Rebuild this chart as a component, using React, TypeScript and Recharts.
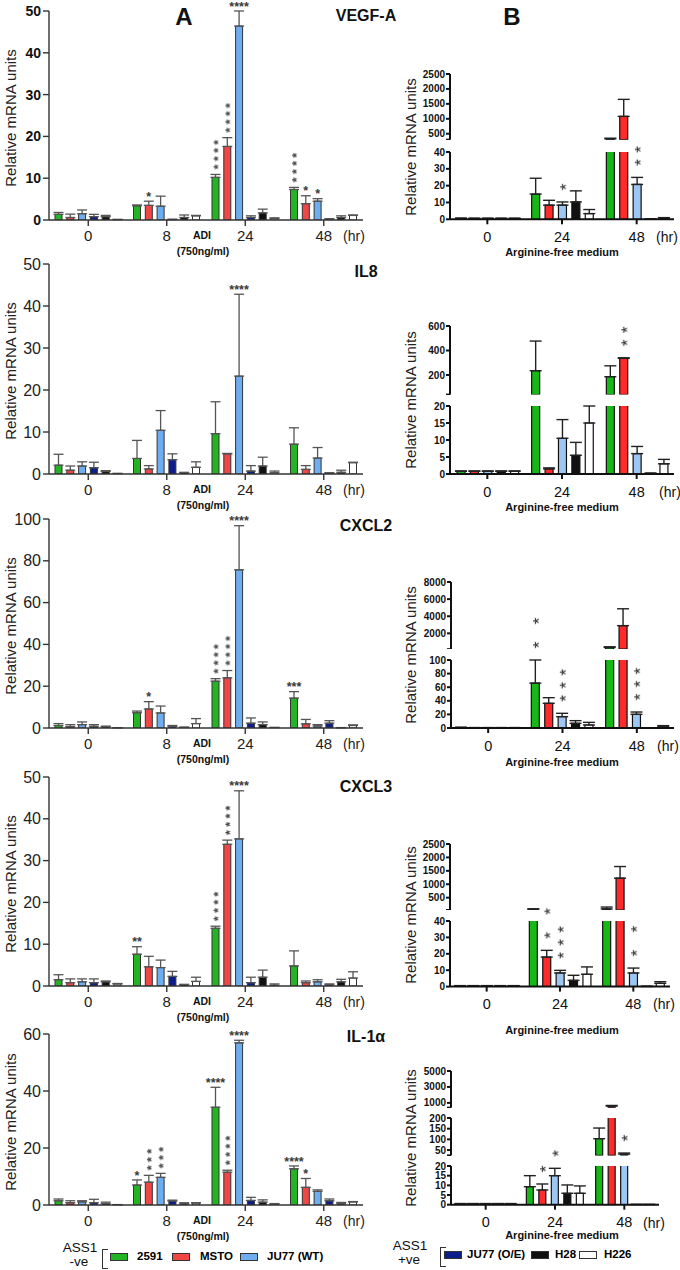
import React from 'react';
import { BarChart, Bar, XAxis, YAxis, ErrorBar, LabelList } from 'recharts';

const FONT = '"Liberation Sans", Arial, Helvetica, sans-serif';

// ---------- column A: ADI (750ng/ml) time course, six cell lines ----------
const TIMES_A = ['0', '8', '24', '48'];
const CELLS_A = ['2591', 'MSTO', 'JU77 (WT)', 'JU77 (O/E)', 'H28', 'H226'];

const VEGF_A_VAL = [
  [1.35, 3.4, 10.2, 7.3],
  [0.6, 3.5, 17.6, 3.9],
  [1.5, 3.3, 46.4, 4.5],
  [0.8, 0.1, 0.6, 0.2],
  [0.8, 0.6, 1.7, 0.6],
  [0.1, 1.0, 0.4, 1.1],
];
const VEGF_A_ERR = [
  [0.45, 0.2, 0.7, 0.5],
  [0.8, 1.0, 2.1, 1.9],
  [0.9, 2.4, 3.8, 0.6],
  [0.55, 0.1, 0.4, 0.1],
  [0.3, 0.6, 0.9, 0.4],
  [0.05, 0.1, 0.1, 0.1],
];
const VEGF_A_STAR = [
  ['', '', 'v:****', 'v:****'],
  ['', '*', 'v:****', '*'],
  ['', '', '****', '*'],
];
const VEGF_A_TICKS = [0, 10, 20, 30, 40, 50];

const IL8_A_VAL = [
  [2.1, 3.7, 9.6, 7.1],
  [0.9, 1.2, 4.8, 1.1],
  [1.9, 10.4, 23.3, 3.8],
  [1.5, 3.4, 0.7, 0.2],
  [0.6, 0.3, 1.9, 0.4],
  [0.1, 1.6, 0.3, 2.7],
];
const IL8_A_ERR = [
  [2.6, 4.3, 7.6, 3.9],
  [1.0, 0.8, 0.1, 0.9],
  [1.0, 4.7, 19.5, 2.5],
  [1.3, 1.4, 1.3, 0.1],
  [0.2, 0.1, 2.1, 0.5],
  [0.05, 1.3, 0.4, 0.1],
];
const IL8_A_STAR = [
  ['', '', '', ''],
  ['', '', '', ''],
  ['', '', '****', ''],
];
const IL8_A_TICKS = [0, 10, 20, 30, 40, 50];

const CXCL2_A_VAL = [
  [1.2, 7.3, 22.4, 14.3],
  [0.7, 9.1, 24.0, 2.0],
  [1.6, 7.2, 75.7, 1.0],
  [0.8, 0.8, 2.3, 2.3],
  [0.6, 0.3, 1.6, 0.1],
  [0.1, 2.1, 0.2, 1.2],
];
const CXCL2_A_ERR = [
  [0.9, 0.8, 1.2, 3.1],
  [0.9, 3.5, 3.5, 2.1],
  [1.3, 3.3, 21.1, 0.6],
  [0.8, 0.4, 2.5, 1.2],
  [0.3, 0.1, 1.3, 0.1],
  [0.05, 2.4, 0.1, 0.3],
];
const CXCL2_A_STAR = [
  ['', '', 'v:****', '***'],
  ['', '*', 'v:****', ''],
  ['', '', '****', ''],
];
const CXCL2_A_TICKS = [0, 20, 40, 60, 80, 100];

const CXCL3_A_VAL = [
  [1.5, 7.6, 13.8, 4.8],
  [0.8, 4.6, 33.9, 0.8],
  [1.0, 4.4, 35.2, 1.0],
  [0.8, 2.3, 0.8, 0.3],
  [1.0, 0.3, 2.1, 1.0],
  [0.5, 1.1, 0.2, 1.9],
];
const CXCL3_A_ERR = [
  [1.2, 1.8, 0.5, 3.6],
  [0.9, 2.5, 1.0, 0.4],
  [0.7, 1.8, 11.5, 0.5],
  [0.9, 1.2, 1.3, 0.2],
  [0.2, 0.1, 1.7, 0.6],
  [0.1, 1.0, 0.3, 1.5],
];
const CXCL3_A_STAR = [
  ['', '**', 'v:****', ''],
  ['', '', 'v:****', ''],
  ['', '', '****', ''],
];
const CXCL3_A_TICKS = [0, 10, 20, 30, 40, 50];

const IL1A_A_VAL = [
  [1.5, 7.0, 34.3, 12.7],
  [0.8, 8.0, 11.5, 6.2],
  [1.1, 9.7, 56.9, 4.8],
  [0.8, 1.4, 1.6, 1.5],
  [0.5, 0.5, 1.0, 0.5],
  [0.1, 0.7, 0.3, 1.1],
];
const IL1A_A_ERR = [
  [0.6, 1.8, 7.0, 1.0],
  [0.7, 2.4, 0.7, 3.1],
  [0.4, 1.4, 0.9, 0.5],
  [1.2, 0.3, 1.1, 0.6],
  [0.5, 0.3, 0.8, 0.4],
  [0.05, 0.1, 0.2, 0.1],
];
const IL1A_A_STAR = [
  ['', '*', '****', '****'],
  ['', 'v:***', 'v:****', '*'],
  ['', 'v:***', '****', ''],
];
const IL1A_A_TICKS = [0, 20, 40, 60];

// ---------- column B: arginine-free medium, five cell lines, broken axes ----------
const TIMES_B = ['0', '24', '48'];

const VEGF_B_VAL = [[0.5, 15, 330], [0.5, 8.4, 1080], [0.5, 8.4, 20.7], [0.5, 10.3, 0.1], [0.5, 3.4, 0.8]];
const VEGF_B_ERR = [[0.2, 9.4, 20], [0.1, 2.9, 570], [0.1, 1.9, 4.2], [0.1, 6.6, 0.05], [0.1, 2.4, 0.2]];
const VEGF_B_STAR = [['', '', ''], ['', '', ''], ['', 'v:*', 'v:**']];
const VEGF_B_TICKS = [[300, 500, 1000, 1500, 2000, 2500], [0, 10, 20, 30, 40]];

const IL8_B_VAL = [[0.8, 235, 186], [0.8, 1.5, 336], [0.8, 10.5, 6], [0.8, 5.5, 0.2], [0.8, 15, 3]];
const IL8_B_ERR = [[0.1, 242, 89], [0.1, 0.3, 4], [0.1, 5.5, 2.1], [0.1, 3.8, 0.05], [0.1, 6, 1.3]];
const IL8_B_STAR = [['', '', ''], ['', '', 'v:**'], ['', '', '']];
const IL8_B_TICKS = [[40, 200, 400, 600], [0, 5, 10, 15, 20]];

const CXCL2_B_VAL = [[0.8, 66, 350], [0.5, 36.3, 2900], [0.5, 16.7, 20.1], [0.5, 6.9, 0.3], [0.5, 4.4, 2]];
const CXCL2_B_ERR = [[0.2, 100, 80], [0.1, 8.3, 1970], [0.1, 4.9, 3.4], [0.1, 3.9, 0.05], [0.1, 3.9, 1.5]];
const CXCL2_B_STAR = [['', 'v:* *', ''], ['', '', ''], ['', 'v:***', 'v:***']];
const CXCL2_B_TICKS = [[150, 2000, 4000, 6000, 8000], [0, 20, 40, 60, 80, 100]];

const CXCL3_B_VAL = [[0.5, 75, 80], [0.5, 18, 1225], [0.5, 8.3, 8.3], [0.5, 3.8, 0.1], [0.5, 7.5, 2]];
const CXCL3_B_ERR = [[0.1, 5, 70], [0.1, 4.1, 435], [0.1, 1.6, 3], [0.1, 3.1, 0.05], [0.1, 4.5, 1]];
const CXCL3_B_STAR = [['', '', ''], ['', 'v:* *', ''], ['', 'v:***', 'v:* *']];
const CXCL3_B_TICKS = [[40, 500, 1000, 1500, 2000, 2500], [0, 10, 20, 30, 40]];

const IL1A_B_VAL = [[0.5, 9.3, 103], [0.5, 7.6, 600], [0.5, 15, 31], [0.5, 5.9, 0.1], [0.5, 5.9, 0.1]];
const IL1A_B_ERR = [[0.1, 5.7, 50], [0.1, 3.1, 80], [0.1, 3.8, 5], [0.1, 4.3, 0.05], [0.1, 3.8, 0.05]];
const IL1A_B_STAR = [['', '', ''], ['', 'v:*', ''], ['', 'v:*', 'v:*']];
const IL1A_B_TICKS = [[400, 1000, 3000, 5000], [25, 50, 100, 150, 200], [0, 5, 10, 15, 20]];

const COLORS_A = ['#22b422', '#f04646', '#6eaef0', '#0c1e8c', '#111111', '#ffffff'];
const COLORS_B = ['#16b816', '#ff2a2a', '#9ec6f2', '#111111', '#ffffff'];

// one row per time point; values outside [lo, hi] are dropped or clipped
function buildRows(times: string[], vals: number[][], errs: number[][], stars: string[][], lo: number, hi: number) {
  return times.map((t, i) => {
    const row: any = { time: t };
    vals.forEach((series, k) => {
      const v = series[i];
      const e = errs[k][i];
      const inside = v > lo && v <= hi;
      row['v' + k] = v > lo ? v : null;
      row['e' + k] = inside ? [0, Math.max(0, Math.min(e, hi - v))] : null;
      const s = (stars[k] && stars[k][i]) || '';
      row['s' + k] = inside && s ? `${s}#${v}#${Math.min(v + e, hi)}` : '';
    });
    return row;
  });
}

// significance stars above the error bar; vertical stacks are one rotated text
function starContent(base: number, big: boolean) {
  return (p: any) => {
    const raw = p.value;
    if (!raw || typeof raw !== 'string') return null;
    const [spec, vs, ts] = raw.split('#');
    const v = +vs;
    const top = +ts;
    const vb = p.viewBox && p.viewBox.height !== undefined ? p.viewBox : p;
    const h = Math.abs(+vb.height);
    const y = Math.min(+vb.y, +vb.y + +vb.height);
    const cx = +vb.x + +vb.width / 2;
    if (!(v > base) || !h) return null;
    const ppu = h / (v - base);
    const topY = y - (top - v) * ppu;
    const vertical = spec.startsWith('v:');
    const s = vertical ? spec.slice(2) : spec;
    const fs = big ? 17 : 12.5;
    const fw = big ? 400 : 700;
    const gap = big ? 15 : 7.5;
    const step = big ? 13 : 8.2;
    const off = 0.57 * fs;
    const adv = 0.389 * fs;
    const fill = big ? '#1a1a1a' : '#3a3a3a';
    if (!vertical) {
      return (
        <text x={cx} y={topY - gap + off} textAnchor="middle" fontSize={fs} fontWeight={fw} fill={fill} fontFamily={FONT}>
          {s}
        </text>
      );
    }
    return (
      <text
        x={0}
        y={0}
        transform={`translate(${cx + off},${topY - gap + adv / 2}) rotate(-90)`}
        textAnchor="start"
        fontSize={fs}
        fontWeight={fw}
        fill={fill}
        fontFamily={FONT}
        filter="url(#starGray)"
        style={{ letterSpacing: `${step - adv}px`, whiteSpace: 'pre' }}
      >
        {s}
      </text>
    );
  };
}

type SegStyle = {
  barSize: number; barGap: number; axis: string; axisW: number;
  yTick: any; xTick: any; xTickSize: number; xTickMargin: number; yTickSize: number; yTickMargin: number;
  barStroke: string; barStrokeW: number; err: string; errW: number; cap: number; big: boolean; yw: number;
};

const STYLE_A: SegStyle = {
  barSize: 7, barGap: 4.8, axis: '#333', axisW: 1.4,
  yTick: { fontSize: 16, fill: '#222', fontFamily: FONT }, xTick: { fontSize: 15, fill: '#222', fontFamily: FONT },
  xTickSize: 6, xTickMargin: 4.5, yTickSize: 6, yTickMargin: 2,
  barStroke: '#333', barStrokeW: 1, err: '#555', errW: 1.3, cap: 5, big: false, yw: 49,
};
const STYLE_B: SegStyle = {
  barSize: 8, barGap: 5.4, axis: '#111', axisW: 2,
  yTick: { fontSize: 10, fontWeight: 700, fill: '#111', fontFamily: FONT }, xTick: { fontSize: 14.5, fill: '#111', fontFamily: FONT },
  xTickSize: 5, xTickMargin: 7.5, yTickSize: 4, yTickMargin: 1,
  barStroke: '#111', barStrokeW: 1.2, err: '#222', errW: 1.4, cap: 6, big: true, yw: 40,
};

function Seg(props: {
  rows: any[]; colors: string[]; x0: number; x1: number; yTop: number; yBot: number;
  ticks: number[]; blankTick: number | null; showX: boolean; st: SegStyle; yTick?: any;
}) {
  const { rows, colors, x0, x1, yTop, yBot, ticks, blankTick, showX, st } = props;
  const lo = ticks[0];
  const hi = ticks[ticks.length - 1];
  const mt = 70;
  const mr = 6;
  const xh = showX ? 34 : 0;
  const width = x1 - x0 + st.yw + mr;
  const height = yBot - yTop + mt + xh;
  return (
    <div style={{ position: 'absolute', left: x0 - st.yw, top: yTop - mt }}>
      <BarChart width={width} height={height} data={rows} margin={{ top: mt, right: mr, left: 0, bottom: 0 }} barGap={st.barGap}>
        <XAxis
          dataKey="time"
          hide={!showX}
          height={xh}
          tick={st.xTick}
          tickSize={st.xTickSize}
          tickMargin={st.xTickMargin}
          axisLine={{ stroke: st.axis, strokeWidth: st.axisW }}
          tickLine={{ stroke: st.axis, strokeWidth: st.axisW }}
        />
        <YAxis
          type="number"
          width={st.yw}
          domain={[lo, hi]}
          ticks={ticks}
          interval={0}
          allowDataOverflow
          tick={props.yTick || st.yTick}
          tickSize={st.yTickSize}
          tickMargin={st.yTickMargin}
          tickFormatter={(v: number) => (blankTick !== null && v === blankTick ? '' : String(v))}
          axisLine={{ stroke: st.axis, strokeWidth: st.axisW }}
          tickLine={{ stroke: st.axis, strokeWidth: st.axisW }}
        />
        {colors.map((c, k) => (
          <Bar
            key={k}
            dataKey={'v' + k}
            fill={c}
            stroke={st.barStroke}
            strokeWidth={st.barStrokeW}
            barSize={st.barSize}
            isAnimationActive={false}
          >
            <ErrorBar dataKey={'e' + k} direction="y" width={st.cap} stroke={st.err} strokeWidth={st.errW} />
            <LabelList dataKey={'s' + k} content={starContent(lo, st.big)} />
          </Bar>
        ))}
      </BarChart>
    </div>
  );
}

function Txt({ x, y, s, size, bold, anchor = 'middle', color = '#111' }: any) {
  const tx = anchor === 'middle' ? '-50%' : anchor === 'end' ? '-100%' : '0';
  return (
    <div
      style={{
        position: 'absolute', left: x, top: y, transform: `translate(${tx},-50%)`,
        fontSize: size, fontWeight: bold ? 700 : 400, whiteSpace: 'nowrap', lineHeight: 1, color,
      }}
    >
      {s}
    </div>
  );
}

function VTxt({ x, y, s, size }: any) {
  return (
    <div
      style={{
        position: 'absolute', left: x, top: y, transform: 'translate(-50%,-50%) rotate(-90deg)',
        fontSize: size, whiteSpace: 'nowrap', lineHeight: 1, color: '#222',
      }}
    >
      {s}
    </div>
  );
}

const YLABEL = 'Relative mRNA units';

function LeftPanel({ vals, errs, stars, ticks, top, bot, title, titleY, yTick }: any) {
  const rows = buildRows(TIMES_A, vals, errs, stars, 0, ticks[ticks.length - 1]);
  return (
    <>
      <Seg rows={rows} colors={COLORS_A} x0={49} x1={363} yTop={top} yBot={bot} ticks={ticks} blankTick={null} showX st={STYLE_A} yTick={yTick} />
      <VTxt x={10} y={(top + bot) / 2 + 2} s={YLABEL} size={15} />
      <Txt x={202} y={bot + 15} s="ADI" size={10.5} bold />
      <Txt x={203} y={bot + 31} s="(750ng/ml)" size={10.5} bold />
      <Txt x={354} y={bot + 16} s="(hr)" size={14} color="#222" />
      <Txt x={366} y={titleY} s={title} size={16} bold />
    </>
  );
}

function RightPanel({ vals, errs, stars, segTicks, segY, x0, x1, hrX, argY, st }: any) {
  const last = segTicks.length - 1;
  const bot = segY[last][1];
  const top = segY[0][0];
  return (
    <>
      {segTicks.map((tk: number[], j: number) => {
        const rows = buildRows(TIMES_B, vals, errs, stars, tk[0], tk[tk.length - 1]);
        return (
          <Seg
            key={j}
            rows={rows}
            colors={COLORS_B}
            x0={x0}
            x1={x1}
            yTop={segY[j][0]}
            yBot={segY[j][1]}
            ticks={tk}
            blankTick={j < last ? tk[0] : null}
            showX={j === last}
            st={st}
          />
        );
      })}
      <VTxt x={410} y={(top + bot) / 2} s={YLABEL} size={15} />
      <Txt x={hrX} y={bot + 18} s="(hr)" size={14} />
      <Txt x={562} y={argY} s="Arginine-free medium" size={11} bold />
    </>
  );
}

function Swatch({ x, color }: any) {
  return <div style={{ position: 'absolute', left: x, top: 0, width: 18, height: 8, background: color, border: '1px solid #333', boxSizing: 'border-box' }} />;
}

function LegendGroup({ x, y, head, sub, bx, items }: any) {
  return (
    <>
      <Txt x={x} y={y} s={head} size={13.5} />
      <Txt x={x - 1} y={y + 14} s={sub} size={13.5} />
      <div style={{ position: 'absolute', left: bx, top: y + 1, width: 5, height: 18, borderLeft: '1.2px solid #333', borderTop: '1.2px solid #333', borderBottom: '1.2px solid #333' }} />
      <div style={{ position: 'absolute', left: 0, top: y + 5 }}>
        {items.map((it: any) => (
          <React.Fragment key={it.label}>
            <Swatch x={it.sx} color={it.color} />
            <div style={{ position: 'absolute', left: it.tx, top: 4, transform: 'translateY(-50%)', fontSize: 11.5, fontWeight: 700, whiteSpace: 'nowrap', lineHeight: 1 }}>
              {it.label}
            </div>
          </React.Fragment>
        ))}
      </div>
    </>
  );
}

export default function App() {
  const stB5 = { ...STYLE_B, barSize: 7, barGap: 5.5 };
  return (
    <div style={{ position: 'absolute', left: 0, top: 0, width: 680, height: 1270, background: '#fff', fontFamily: FONT, overflow: 'hidden' }}>
      <svg width={0} height={0} style={{ position: 'absolute' }}>
        <defs>
          <filter id="starGray" x="-50%" y="-50%" width="200%" height="200%">
            <feColorMatrix type="saturate" values="0" />
          </filter>
        </defs>
      </svg>
      <Txt x={184} y={17} s="A" size={24} bold />
      <Txt x={512} y={17} s="B" size={24} bold />

      <LeftPanel vals={VEGF_A_VAL} errs={VEGF_A_ERR} stars={VEGF_A_STAR} ticks={VEGF_A_TICKS} top={11} bot={220} title="VEGF-A" titleY={16}
        yTick={{ fontSize: 14, fontWeight: 700, fill: '#111', fontFamily: FONT }} />
      <LeftPanel vals={IL8_A_VAL} errs={IL8_A_ERR} stars={IL8_A_STAR} ticks={IL8_A_TICKS} top={264} bot={474} title="IL8" titleY={272} />
      <LeftPanel vals={CXCL2_A_VAL} errs={CXCL2_A_ERR} stars={CXCL2_A_STAR} ticks={CXCL2_A_TICKS} top={519} bot={728} title="CXCL2" titleY={526} />
      <LeftPanel vals={CXCL3_A_VAL} errs={CXCL3_A_ERR} stars={CXCL3_A_STAR} ticks={CXCL3_A_TICKS} top={777} bot={986} title="CXCL3" titleY={787} />
      <LeftPanel vals={IL1A_A_VAL} errs={IL1A_A_ERR} stars={IL1A_A_STAR} ticks={IL1A_A_TICKS} top={1034} bot={1205} title="IL-1α" titleY={1037} />

      <RightPanel vals={VEGF_B_VAL} errs={VEGF_B_ERR} stars={VEGF_B_STAR} segTicks={VEGF_B_TICKS}
        segY={[[74, 139.7], [151.7, 219]]} x0={450} x1={674} hrX={667} argY={252} st={STYLE_B} />
      <RightPanel vals={IL8_B_VAL} errs={IL8_B_ERR} stars={IL8_B_STAR} segTicks={IL8_B_TICKS}
        segY={[[326, 394.6], [406, 474]]} x0={450} x1={674} hrX={670} argY={507} st={STYLE_B} />
      <RightPanel vals={CXCL2_B_VAL} errs={CXCL2_B_ERR} stars={CXCL2_B_STAR} segTicks={CXCL2_B_TICKS}
        segY={[[582.3, 649.5], [660, 728]]} x0={451} x1={674} hrX={668} argY={762} st={STYLE_B} />
      <RightPanel vals={CXCL3_B_VAL} errs={CXCL3_B_ERR} stars={CXCL3_B_STAR} segTicks={CXCL3_B_TICKS}
        segY={[[844.3, 910.3], [920.7, 986.3]]} x0={450} x1={670} hrX={664} argY={1030} st={STYLE_B} />
      <RightPanel vals={IL1A_B_VAL} errs={IL1A_B_ERR} stars={IL1A_B_STAR} segTicks={IL1A_B_TICKS}
        segY={[[1071, 1107.7], [1118.3, 1155.7], [1166, 1204.7]]} x0={451} x1={659} hrX={654} argY={1235} st={stB5} />

      <LegendGroup x={80} y={1248} head="ASS1" sub="-ve" bx={102}
        items={[
          { label: CELLS_A[0], color: COLORS_A[0], sx: 110, tx: 137 },
          { label: CELLS_A[1], color: COLORS_A[1], sx: 172, tx: 200 },
          { label: CELLS_A[2], color: COLORS_A[2], sx: 240, tx: 267 },
        ]} />
      <LegendGroup x={410} y={1246} head="ASS1" sub="+ve" bx={440}
        items={[
          { label: CELLS_A[3], color: COLORS_A[3], sx: 444, tx: 467 },
          { label: CELLS_A[4], color: COLORS_A[4], sx: 531, tx: 555 },
          { label: CELLS_A[5], color: COLORS_A[5], sx: 579, tx: 604 },
        ]} />
    </div>
  );
}
